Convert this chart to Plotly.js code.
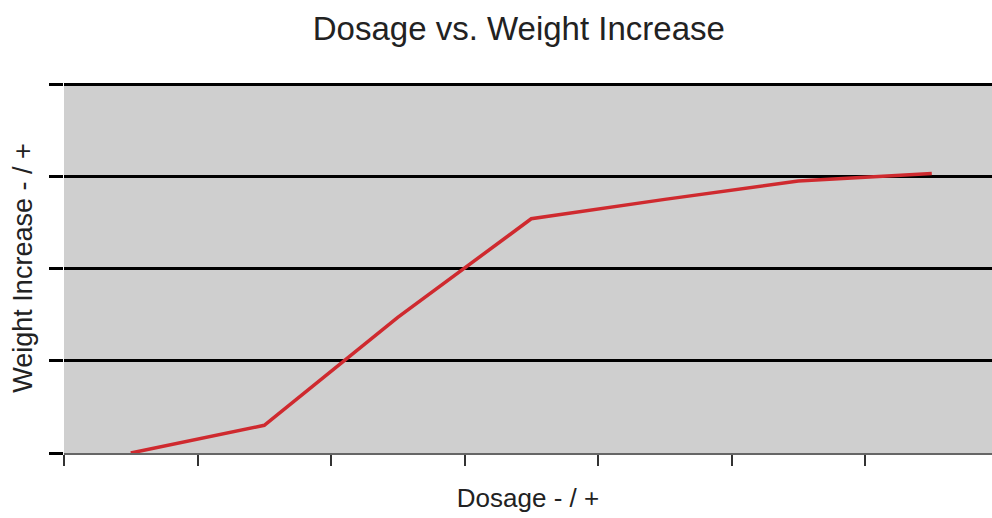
<!DOCTYPE html>
<html>
<head>
<meta charset="utf-8">
<script src="https://cdn.plot.ly/plotly-3.0.1.min.js"></script>
<style>html,body{margin:0;padding:0;background:#fff;}#chart{width:992px;height:518px;}</style>
</head>
<body>
<div id="chart"></div>
<script>
const dosage = [1, 2, 3, 4, 5, 6, 7];
const weightIncrease = [0.0, 0.30, 1.47, 2.54, 2.75, 2.95, 3.03];

const trace = {
  x: dosage,
  y: weightIncrease,
  type: 'scatter',
  mode: 'lines',
  line: {color: '#cf2a2f', width: 3.5},
  hoverinfo: 'skip'
};

const layout = {
  width: 992,
  height: 518,
  margin: {l: 64, r: 0, t: 83, b: 65},
  paper_bgcolor: '#ffffff',
  plot_bgcolor: '#cfcfcf',
  showlegend: false,
  font: {family: 'Liberation Sans, Arial, sans-serif', color: '#222'},
  title: {
    text: 'Dosage vs. Weight Increase',
    font: {size: 33, color: '#222'},
    xref: 'container', x: 0.523, xanchor: 'center',
    yref: 'container', y: 0.945, yanchor: 'middle'
  },
  xaxis: {
    range: [0.5, 7.451],
    tick0: 0.5, dtick: 1,
    showgrid: false, zeroline: false,
    showticklabels: false,
    ticks: 'outside', ticklen: 11, tickwidth: 2, tickcolor: '#333',
    showline: true, linecolor: '#666', linewidth: 2,
    title: {text: 'Dosage - / +', font: {size: 26, color: '#222'}, standoff: 24}
  },
  yaxis: {
    range: [0, 4.012],
    dtick: 1,
    showgrid: true, gridcolor: '#000', gridwidth: 3,
    zeroline: false,
    showticklabels: false,
    ticks: 'outside', ticklen: 14, tickwidth: 3, tickcolor: '#000',
    showline: false,
    title: {text: 'Weight Increase - / +', font: {size: 27, color: '#222'}, standoff: 8}
  }
};

Plotly.newPlot('chart', [trace], layout, {displayModeBar: false, staticPlot: true});
</script>
</body>
</html>
